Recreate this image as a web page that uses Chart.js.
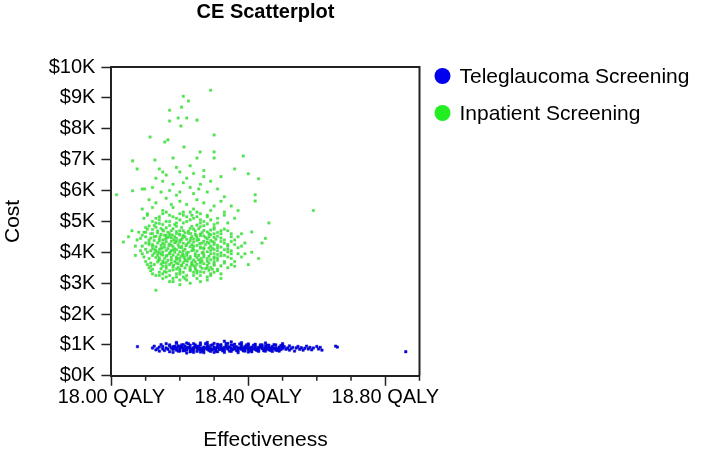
<!DOCTYPE html>
<html>
<head>
<meta charset="utf-8">
<script src="https://cdn.jsdelivr.net/npm/chart.js@4/dist/chart.umd.min.js"></script>
<style>
html,body{margin:0;padding:0;background:#fff;}
#wrap{width:704px;height:454px;}
</style>
</head>
<body>
<div id="wrap"><canvas id="c" width="704" height="454"></canvas></div>
<script>
const chartTitle = 'CE Scatterplot';
const seriesNames = ['Teleglaucoma Screening', 'Inpatient Screening'];
const xTitle = 'Effectiveness';
const yTitle = 'Cost';
const xLabelValues = [18.0, 18.4, 18.8];
const yTickLabels = ['$0K','$1K','$2K','$3K','$4K','$5K','$6K','$7K','$8K','$9K','$10K'];

// Teleglaucoma Screening: [effectiveness QALY, cost $]
const teleglaucoma = [
[18.076,945],[18.655,960],[18.66,930],[18.86,780],
[18.12,900],[18.125,960],[18.13,840],[18.135,880],[18.14,930],[18.14,800],[18.145,1010],[18.15,870],[18.15,950],[18.155,820],[18.16,900],[18.16,1040],[18.165,860],[18.17,780],[18.17,960],
[18.175,900],[18.18,850],[18.18,940],[18.185,880],[18.19,920],[18.19,830],[18.195,970],[18.2,890],[18.2,860],[18.205,930],[18.21,900],[18.21,810],[18.215,960],[18.22,880],[18.22,840],[18.225,920],[18.23,900],[18.23,990],[18.235,860],[18.24,910],[18.24,830],[18.245,950],[18.25,880],[18.25,920],[18.255,850],[18.26,900],[18.26,1000],[18.265,870],[18.27,930],[18.27,820],[18.275,890],[18.28,950],[18.28,860],[18.285,910],[18.29,880],[18.29,980],[18.295,840],[18.3,900],[18.3,930],[18.305,870],[18.31,910],[18.31,1020],[18.315,850],[18.32,890],[18.32,940],[18.325,880],[18.33,920],[18.33,830],[18.335,960],[18.34,900],[18.34,870],[18.345,930],[18.35,890],[18.35,1000],[18.355,850],[18.36,910],[18.36,880],[18.365,940],[18.37,870],[18.37,820],[18.375,900],[18.38,930],[18.38,860],[18.385,890],[18.39,950],[18.39,880],[18.395,910],[18.4,860],[18.4,1030],[18.405,900],[18.41,930],[18.41,840],[18.415,880],[18.42,910],[18.42,960],[18.425,870],[18.43,900],[18.43,830],[18.435,940],[18.44,880],[18.44,910],[18.445,860],[18.45,900],[18.45,970],[18.455,880],[18.46,920],[18.46,840],[18.465,900],[18.47,870],[18.47,950],[18.475,890],[18.48,910],[18.48,830],[18.485,870],[18.49,930],[18.49,890],[18.495,850],[18.5,910],[18.5,880],
[18.18,900],[18.19,880],[18.2,940],[18.21,870],[18.22,910],[18.23,850],[18.24,890],[18.25,950],[18.26,860],[18.27,900],[18.28,920],[18.29,850],[18.3,880],[18.31,950],[18.32,860],[18.33,900],[18.34,940],[18.35,860],[18.36,920],[18.37,900],[18.38,880],[18.39,850],[18.4,910],[18.41,890],[18.42,850],[18.43,920],[18.44,950],[18.45,870],[18.46,880],[18.47,910],
[18.17,1000],[18.18,760],[18.19,1080],[18.2,800],[18.21,1010],[18.22,740],[18.23,780],[18.24,1040],[18.25,790],[18.26,1060],[18.27,750],[18.28,1000],[18.29,790],[18.3,1050],[18.31,780],[18.32,1010],[18.33,760],[18.34,1050],[18.35,790],[18.36,1020],[18.37,750],[18.38,1000],[18.39,800],[18.4,990],[18.41,780],[18.42,1020],[18.43,790],[18.44,1000],[18.45,800],[18.46,990],[18.47,790],[18.48,1000],[18.49,800],[18.5,990],
[18.185,960],[18.195,800],[18.205,1000],[18.215,820],[18.225,1040],[18.235,800],[18.245,1000],[18.255,960],[18.265,800],[18.275,1040],[18.285,820],[18.295,1000],[18.305,800],[18.315,980],[18.325,810],[18.335,1040],[18.345,800],[18.355,990],[18.365,820],[18.375,1030],[18.385,810],[18.395,1000],[18.405,820],[18.415,990],[18.425,820],[18.435,1000],[18.445,810],[18.455,990],[18.465,820],[18.475,1010],[18.485,820],[18.495,980],
[18.505,940],[18.51,860],[18.515,900],[18.52,970],[18.52,830],[18.525,880],[18.53,920],[18.535,800],[18.54,900],[18.545,950],[18.55,860],[18.555,910],[18.56,830],[18.565,890],[18.57,960],[18.575,870],[18.58,920],[18.585,840],[18.59,900],[18.6,950],[18.605,870],[18.61,920],[18.615,830],
[18.22,1060],[18.28,1080],[18.35,1100],[18.3,760],[18.4,770],[18.45,1060],[18.26,770],[18.5,1040],[18.33,1120],[18.19,1050],[18.24,760],[18.38,1070]
];

// Inpatient Screening: [effectiveness QALY, cost $]
const inpatient = [
[18.29,9250],[18.21,9050],[18.225,8900],[18.205,8700],[18.17,8600],[18.17,8250],[18.195,8350],[18.22,8350],[18.25,8280],[18.203,8090],[18.30,7800],[18.113,7730],[18.156,7570],[18.165,7640],[18.212,7410],[18.259,7250],[18.30,7250],[18.385,7120],[18.062,6960],[18.127,6990],[18.18,7050],[18.25,7050],[18.30,7050],[18.075,6700],[18.36,6700],[18.40,6540],[18.43,6380],[18.062,5990],[18.015,5860],[18.42,5860],[18.42,5660],[18.09,6050],[18.097,6050],[18.59,5350],
[18.14,6700],[18.16,6500],[18.2,6600],[18.22,6400],[18.24,6550],[18.27,6450],[18.15,6300],[18.18,6200],[18.21,6250],[18.23,6100],[18.26,6200],[18.29,6300],[18.12,6100],[18.145,5950],[18.17,6000],[18.19,5850],[18.24,5900],[18.28,5950],[18.31,6050],[18.33,5800],[18.11,5700],[18.13,5600],[18.16,5750],[18.2,5650],[18.22,5550],[18.25,5700],[18.27,5600],[18.3,5500],[18.32,5650],[18.35,5500],[18.09,5400],[18.12,5450],[18.15,5350],[18.18,5450],[18.21,5300],[18.24,5400],[18.26,5250],[18.29,5350],[18.33,5300],[18.37,5350],[18.15,6600],[18.19,6750],[18.23,6800],[18.27,6650],[18.13,6400],[18.32,6450],[18.2,5950],[18.255,6050],[18.175,5550],[18.235,5200],[18.28,5150],[18.105,5200],[18.14,5150],
[18.035,4330],[18.05,4500],[18.07,4200],[18.08,4650],[18.09,3950],[18.1,4800],[18.1,3700],[18.095,5100],[18.11,3500],[18.105,5250],[18.13,3250],[18.15,3150],[18.13,2770],[18.17,3050],[18.19,3200],[18.2,2950],[18.22,3100],[18.24,3250],[18.26,3050],[18.28,3200],[18.3,3350],[18.32,3150],[18.34,3500],[18.36,3700],[18.35,3950],[18.37,4150],[18.38,3850],[18.36,4400],[18.38,4600],[18.41,4660],[18.41,4000],[18.4,3600],[18.33,4750],[18.34,4950],[18.31,5100],[18.28,5200],[18.25,5150],[18.2,5250],[18.17,5200],[18.14,5050],[18.12,5000],[18.23,5050],[18.3,4900],[18.36,5100],[18.39,4300],[18.11,4400],[18.1,4100],[18.085,4450],[18.07,3900],[18.12,3300],[18.16,3350],[18.2,3300],[18.27,3350],[18.33,3900],[18.34,4200],[18.06,4700],[18.43,3800],[18.44,4300],[18.46,4950],[18.45,4450],
[18.09,4550],[18.1,4300],[18.095,3850],[18.105,3600],[18.115,3400],[18.14,3250],[18.18,3150],[18.21,3200],[18.25,3150],[18.29,3300],[18.31,3450],[18.33,3650],[18.35,3800],[18.34,4100],[18.35,4350],[18.35,4600],[18.32,4700],[18.31,4950],[18.26,5050],[18.22,5150],[18.19,5100],[18.16,5000],[18.13,4950],[18.11,4850],[18.1,4650],[18.37,4500],[18.38,4200],[18.39,3950],[18.32,3300],[18.23,3000],[18.17,3250],[18.085,4050],[18.075,4400],[18.27,5000],[18.33,5200],[18.23,5300],[18.16,5300],
[18.30,4750],[18.32,4600],[18.31,4520],[18.33,4400],[18.32,4350],[18.34,4250],[18.31,4150],[18.33,4080],[18.35,4050],[18.32,3980],[18.34,3850],[18.31,3740],[18.33,3700],[18.30,3620],[18.32,3560],[18.35,3600],[18.31,3400],[18.29,3250],[18.36,4250],[18.35,4500],[18.37,3950],[18.36,3550],[18.34,4700],[18.30,4600],[18.285,4500],[18.295,4350],[18.3,4250],[18.29,3950],[18.3,3850],[18.285,3650],[18.28,3500],[18.295,3450],
[18.10,4500],[18.11,4250],[18.105,4000],[18.11,3800],[18.115,3650],[18.12,3450],[18.105,4750],[18.115,4600],[18.12,3900],[18.09,4200],[18.095,4650],[18.115,3550],
[18.13,5100],[18.15,5250],[18.18,5150],[18.2,5050],[18.22,5000],[18.24,5100],[18.26,4950],[18.29,5050],[18.17,5000],[18.21,5200],[18.19,4950],[18.15,4900],[18.25,5300],
[18.14,3350],[18.16,3200],[18.19,3300],[18.22,3250],[18.24,3350],[18.26,3250],[18.28,3100],[18.18,3050],[18.215,3150],[18.25,3400],[18.15,3300],[18.2,3100],
[18.16,4460],[18.2,4330],[18.24,4200],[18.18,4080],[18.22,3900],[18.26,3700],[18.17,3950],[18.21,4050],[18.25,4380],[18.155,4250],[18.27,4150],[18.19,3650],[18.23,3800],[18.14,3990],[18.28,4330],[18.21,4700],[18.17,4520],[18.235,3590],[18.2,3450],[18.26,4540],
[18.14,4930],[18.17,4870],[18.21,4950],[18.25,4880],[18.28,4920],
[18.13,4810],[18.16,4790],[18.19,4840],[18.23,4770],[18.26,4830],[18.30,4800],
[18.12,4740],[18.15,4720],[18.18,4760],[18.20,4700],[18.24,4750],[18.27,4710],
[18.135,4690],[18.165,4650],[18.19,4670],[18.215,4630],[18.245,4690],[18.28,4660],[18.31,4640],
[18.12,4610],[18.145,4580],[18.17,4600],[18.20,4560],[18.225,4620],[18.26,4590],[18.29,4570],
[18.13,4520],[18.155,4550],[18.185,4500],[18.21,4540],[18.235,4510],[18.27,4530],[18.30,4490],
[18.115,4460],[18.14,4430],[18.165,4480],[18.19,4450],[18.22,4420],[18.25,4470],[18.28,4440],[18.32,4460],
[18.125,4380],[18.15,4400],[18.175,4360],[18.20,4390],[18.23,4370],[18.255,4410],[18.29,4380],
[18.11,4320],[18.135,4300],[18.16,4340],[18.185,4310],[18.21,4290],[18.24,4330],[18.265,4300],[18.30,4320],[18.33,4290],
[18.12,4250],[18.145,4230],[18.17,4270],[18.195,4240],[18.22,4260],[18.25,4220],[18.275,4250],[18.31,4230],
[18.13,4180],[18.155,4160],[18.18,4190],[18.205,4150],[18.23,4180],[18.26,4170],[18.285,4140],[18.32,4170],
[18.12,4110],[18.14,4090],[18.165,4120],[18.19,4080],[18.215,4100],[18.24,4070],[18.27,4110],[18.30,4090],
[18.13,4040],[18.15,4010],[18.175,4050],[18.20,4020],[18.225,4000],[18.25,4040],[18.28,4020],[18.31,4050],[18.34,4010],
[18.125,3970],[18.145,3940],[18.17,3960],[18.195,3930],[18.22,3980],[18.245,3950],[18.27,3920],[18.30,3960],
[18.135,3900],[18.16,3870],[18.18,3910],[18.205,3880],[18.23,3860],[18.255,3900],[18.285,3870],[18.32,3890],
[18.13,3830],[18.155,3800],[18.175,3840],[18.20,3810],[18.225,3790],[18.25,3830],[18.28,3800],[18.31,3820],
[18.14,3760],[18.165,3740],[18.19,3770],[18.215,3730],[18.24,3750],[18.265,3720],[18.29,3760],
[18.135,3690],[18.16,3670],[18.185,3700],[18.21,3660],[18.235,3680],[18.26,3650],[18.30,3690],
[18.145,3620],[18.17,3600],[18.195,3630],[18.22,3590],[18.25,3610],[18.28,3580],
[18.15,3550],[18.18,3530],[18.205,3560],[18.23,3520],[18.26,3540],[18.29,3510],
[18.16,3480],[18.19,3460],[18.215,3490],[18.245,3450],[18.275,3470],
[18.17,3400],[18.20,3380],[18.23,3410],[18.26,3370],
[18.152,4690],[18.178,4560],[18.208,4470],[18.232,4610],[18.158,4420],[18.188,4330],[18.218,4210],[18.148,4150],[18.172,4020],[18.208,3960],[18.238,4120],[18.162,3900],[18.192,3790],[18.222,3710],[18.152,3660],[18.182,3580],[18.242,3560],[18.262,3800],[18.268,4000],[18.258,4280],[18.248,4540],[18.142,4510],[18.128,4080],[18.138,3740],[18.212,3840],[18.198,4160],[18.182,4410],[18.168,4220],[18.232,4450],[18.198,4590],
[18.125,4870],[18.185,4900],[18.235,4840],[18.27,4860],[18.205,4800],[18.145,4770],[18.255,4760],[18.29,4720],[18.175,4700],[18.225,4680],[18.265,4640],[18.135,4630],[18.19,4610],[18.245,4580],[18.285,4600],[18.16,4550],[18.215,4500],[18.275,4480],[18.125,4500],[18.175,4470],[18.24,4430],[18.305,4420],[18.205,4410],[18.14,4370],[18.27,4360],[18.19,4360],[18.15,4290],[18.225,4310],[18.285,4290],[18.12,4200],[18.175,4230],[18.235,4240],[18.29,4200],[18.205,4190],[18.145,4120],[18.26,4130],[18.185,4110],[18.295,4130],[18.115,4050],[18.16,4060],[18.235,4050],[18.29,4060],[18.185,4000],[18.265,3980],[18.135,3990],[18.21,3920],[18.31,3930],[18.15,3910],[18.245,3890],[18.19,3850],[18.27,3850],[18.14,3820],[18.3,3800],[18.215,3780],[18.175,3760],[18.255,3760],[18.15,3710],[18.2,3720],[18.28,3710],[18.245,3690],[18.175,3650],[18.125,3600],[18.235,3620],[18.27,3630],[18.205,3590],[18.16,3560],[18.3,3580],[18.245,3520],[18.195,3510],[18.145,3470],[18.265,3480],[18.23,3440],[18.18,3430],[18.285,3420],[18.21,3350],[18.25,3330],[18.155,3380]
];

const legendColors = ['#0000ee', '#22ee22'];
const FONT = "'Liberation Sans', Arial, Helvetica, sans-serif";
const isMajor = v => xLabelValues.some(m => Math.abs(m - v) < 1e-6);

const framePlugin = {
  id: 'frame',
  afterDraw(chart) {
    const {ctx, chartArea: a, scales} = chart;
    const x = scales.x;
    ctx.save();
    ctx.strokeStyle = '#222';
    ctx.lineWidth = 2;
    ctx.beginPath();
    ctx.moveTo(a.left, a.top);
    ctx.lineTo(a.right, a.top);
    ctx.lineTo(a.right, a.bottom);
    ctx.stroke();
    ctx.lineWidth = 1.5;
    ctx.beginPath();
    x.ticks.forEach(t => {
      if (!isMajor(t.value)) {
        const px = x.getPixelForValue(t.value);
        ctx.moveTo(px, a.bottom);
        ctx.lineTo(px, a.bottom + 5);
      }
    });
    ctx.stroke();
    // legend
    const lx = a.right + 23, ly0 = a.top + 9, gap = 37;
    ctx.font = '21px ' + FONT;
    ctx.textBaseline = 'middle';
    ctx.textAlign = 'left';
    chart.data.datasets.forEach((ds, i) => {
      const cy = ly0 + i * gap;
      ctx.beginPath();
      ctx.fillStyle = legendColors[i];
      ctx.arc(lx, cy, 8, 0, Math.PI * 2);
      ctx.fill();
      ctx.fillStyle = '#000';
      ctx.fillText(ds.label, lx + 17, cy + 1);
    });
    ctx.restore();
  }
};

new Chart(document.getElementById('c'), {
  type: 'scatter',
  data: {
    datasets: [
      {
        label: seriesNames[0],
        data: teleglaucoma.map(p => ({x: p[0], y: p[1]})),
        pointRadius: 1.7,
        pointBackgroundColor: '#0000ff',
        pointBorderColor: '#0000b0',
        pointBorderWidth: 0.5,
        pointStyle: 'rect'
      },
      {
        label: seriesNames[1],
        data: inpatient.map(p => ({x: p[0], y: p[1]})),
        pointRadius: 1.8,
        pointBackgroundColor: 'rgba(45,235,45,0.9)',
        pointBorderColor: 'rgba(110,200,110,0.6)',
        pointBorderWidth: 0.5,
        pointStyle: 'rect'
      }
    ]
  },
  options: {
    responsive: false,
    animation: false,
    events: [],
    layout: {padding: {left: 0, right: 284.5, top: 0, bottom: 0}},
    plugins: {
      tooltip: {enabled: false},
      legend: {display: false},
      title: {
        display: true,
        fullSize: false,
        text: chartTitle,
        color: '#000',
        font: {family: FONT, size: 20, weight: 'bold', lineHeight: 1.2},
        padding: {top: 0, bottom: 43}
      }
    },
    scales: {
      x: {
        type: 'linear',
        min: 18.0,
        max: 18.9,
        grid: {drawOnChartArea: false, drawTicks: true, tickLength: 10, tickWidth: 1.5,
               tickColor: ctx => (ctx.tick && isMajor(ctx.tick.value)) ? '#222' : 'rgba(0,0,0,0)'},
        border: {display: true, color: '#222', width: 2},
        ticks: {
          stepSize: 0.1,
          autoSkip: false,
          maxRotation: 0,
          padding: 0,
          color: '#000',
          font: {family: FONT, size: 20},
          callback: v => isMajor(v) ? Number(v).toFixed(2) + ' QALY' : ''
        },
        title: {display: true, text: xTitle, color: '#000', font: {family: FONT, size: 21}, padding: {top: 18, bottom: 1}}
      },
      y: {
        type: 'linear',
        min: 0,
        max: 10000,
        grid: {drawOnChartArea: false, drawTicks: true, tickLength: 10, tickWidth: 1.5, tickColor: '#222'},
        border: {display: true, color: '#222', width: 2},
        ticks: {
          stepSize: 1000,
          padding: 6,
          color: '#000',
          font: {family: FONT, size: 20},
          callback: (v) => yTickLabels[Math.round(v / 1000)]
        },
        title: {display: true, text: yTitle, color: '#000', font: {family: FONT, size: 21}, padding: {top: 1, bottom: 16.5}}
      }
    }
  },
  plugins: [framePlugin]
});
</script>
</body>
</html>
